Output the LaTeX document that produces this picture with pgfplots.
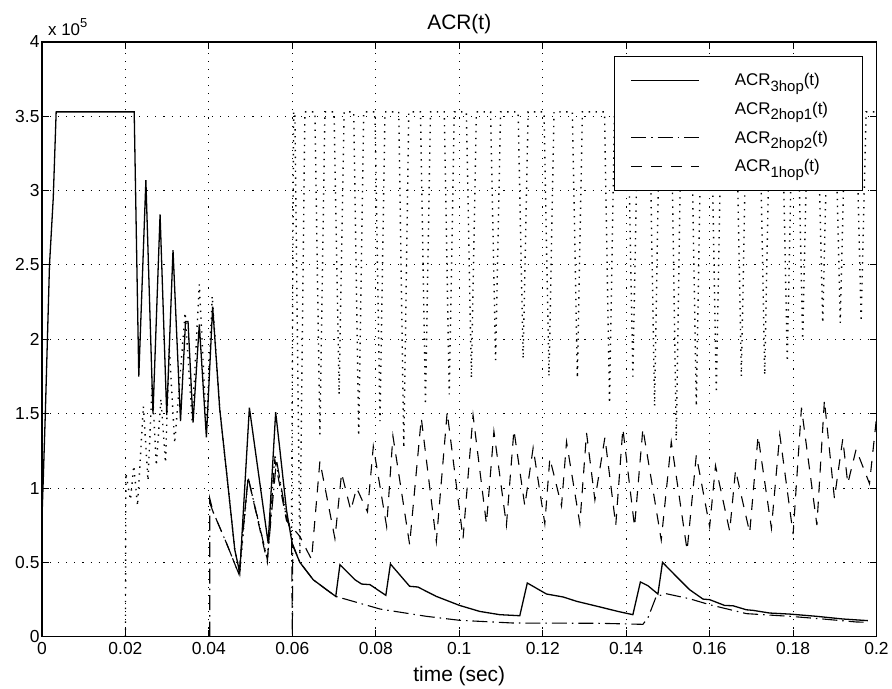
\documentclass[border=0pt]{standalone}
\usepackage{fontspec}
\setmainfont{Liberation Sans}
\usepackage{pgfplots}
\pgfplotsset{compat=1.18}
\newcommand\sub[1]{\raisebox{-0.32em}{\fontsize{15}{16}\selectfont #1}}
\begin{document}
\begin{tikzpicture}
\begin{axis}[
  scale only axis, width=835bp, height=595bp,
  xmin=0, xmax=0.2, ymin=0, ymax=4,
  xtick={0,0.02,0.04,0.06,0.08,0.1,0.12,0.14,0.16,0.18,0.2},
  xticklabels={0,0.02,0.04,0.06,0.08,0.1,0.12,0.14,0.16,0.18,0.2},
  ytick={0,0.5,1,1.5,2,2.5,3,3.5,4},
  yticklabels={0,0.5,1,1.5,2,2.5,3,3.5,4},
  /pgf/number format/assume math mode=true,
  tick align=inside, tick pos=both,
  major tick length=7bp,
  every tick/.style={black, line width=1bp},
  axis line style={line width=1.2bp},
  grid=major,
  grid style={black, line width=1bp, dash pattern=on 1.1bp off 7bp},
  ticklabel style={font=\fontsize{17.5}{20}\selectfont},
  yticklabel style={xshift=1bp},
  xticklabel style={yshift=-2bp},
  title={ACR(t)},
  title style={font=\fontsize{21}{24}\selectfont, yshift=-1bp},
  xlabel={time (sec)},
  every axis x label/.style={at={(axis description cs:0.5,0)}, anchor=north, yshift=-26bp, font=\fontsize{21}{24}\selectfont},
  legend cell align=left,
  legend style={at={(1,1)}, anchor=north east, xshift=-14bp, yshift=-14bp,
    draw=black, line width=1bp, inner xsep=16bp, inner ysep=15bp,
    font=\fontsize{17}{20}\selectfont, row sep=11bp,
    /tikz/every odd column/.append style={column sep=33bp}},
  legend image code/.code={\draw[#1] (0bp,0bp) -- (68bp,0bp);},
]
% ACR_3hop (solid)
\addplot[black, line width=1.3bp] coordinates {
(0,0.8) (0.0003,1.05) (0.0008,1.5) (0.0018,2.5) (0.0027,2.95) (0.0034,3.53)
(0.0221,3.53) (0.0232,1.75) (0.0249,3.07) (0.0266,1.50) (0.0283,2.84) (0.0299,1.49)
(0.0314,2.60) (0.0332,1.45) (0.0344,2.12) (0.0350,2.12) (0.0362,1.44) (0.0377,2.10)
(0.0394,1.34) (0.0409,2.22) (0.0426,1.53) (0.0446,1.01) (0.0462,0.585) (0.0474,0.43)
(0.0497,1.54) (0.0542,0.63) (0.0560,1.51) (0.0570,1.26) (0.0586,0.85) (0.0600,0.62)
(0.0618,0.50) (0.0650,0.383) (0.0682,0.316) (0.0704,0.271) (0.0714,0.484) (0.0750,0.383)
(0.0766,0.354) (0.0786,0.35) (0.0824,0.278) (0.0835,0.489) (0.0881,0.339) (0.0901,0.334)
(0.0921,0.305) (0.0945,0.271) (0.1001,0.21) (0.1049,0.17) (0.1097,0.148) (0.1145,0.141)
(0.1163,0.361) (0.1209,0.287) (0.1249,0.267) (0.1281,0.238) (0.1337,0.200) (0.1380,0.170)
(0.1416,0.148) (0.1434,0.368) (0.1452,0.343) (0.1476,0.287) (0.1487,0.50) (0.1524,0.394)
(0.1552,0.316) (0.1584,0.253) (0.1600,0.249) (0.1636,0.21) (0.1656,0.208) (0.1688,0.181)
(0.1704,0.177) (0.1744,0.159) (0.1792,0.152) (0.1856,0.137) (0.1919,0.119) (0.1979,0.108)
};
\addlegendentry{ACR\sub{3hop}(t)\hspace*{16bp}}
% ACR_2hop1 (dotted)
\addplot[black, line width=1.4bp, dash pattern=on 1.4bp off 5.5bp, legend image code/.code={}] coordinates {
(0.0200,0) (0.0201,1.10) (0.0212,0.92) (0.0220,1.15) (0.0229,0.88) (0.0243,1.55)
(0.0254,1.05) (0.0264,1.70) (0.0274,1.15) (0.0285,1.60) (0.0296,1.17) (0.0305,1.95)
(0.0318,1.30) (0.0343,2.18) (0.0360,1.45) (0.0377,2.37) (0.0394,1.40) (0.0408,2.29)
(0.0426,1.53) (0.0446,1.01) (0.0462,0.585) (0.0474,0.43) (0.0494,1.07) (0.0540,0.52)
(0.0558,1.22) (0.0586,0.80) (0.0598,0.70) (0.0603,3.53) (0.0606,3.53) (0.0618,0.55)
(0.0630,3.53)
(0.0654,3.53) (0.0666,1.36) (0.0678,3.53)
(0.0700,3.53) (0.0712,1.63) (0.0724,3.53)
(0.0747,3.53) (0.0759,1.35) (0.0771,3.53)
(0.0798,3.53) (0.0810,1.45) (0.0822,3.53)
(0.0855,3.53) (0.0867,1.27) (0.0879,3.53)
(0.0907,3.53) (0.0919,1.56) (0.0931,3.53)
(0.0964,3.53) (0.0976,1.63) (0.0988,3.53)
(0.1017,3.53) (0.1029,1.74) (0.1041,3.53)
(0.1075,3.53) (0.1087,1.86) (0.1099,3.53)
(0.1141,3.53) (0.1153,1.87) (0.1165,3.53)
(0.1203,3.53) (0.1215,1.75) (0.1227,3.53)
(0.1271,3.53) (0.1283,1.74) (0.1295,3.53)
(0.1348,3.53) (0.1360,1.57) (0.1372,3.53)
(0.1404,3.53) (0.1416,1.75) (0.1428,3.53)
(0.1456,3.53) (0.1468,1.55) (0.1480,3.53)
(0.1508,3.53) (0.1520,1.32) (0.1532,3.53)
(0.1556,3.53) (0.1568,1.55) (0.1580,3.53)
(0.1604,3.53) (0.1616,1.64) (0.1628,3.53)
(0.1664,3.53) (0.1676,1.75) (0.1688,3.53)
(0.1720,3.53) (0.1732,1.76) (0.1744,3.53)
(0.1774,3.53) (0.1786,1.85) (0.1798,3.53)
(0.1811,3.53) (0.1823,2.00) (0.1835,3.53)
(0.1859,3.53) (0.1871,2.11) (0.1883,3.53)
(0.1901,3.53) (0.1913,2.11) (0.1925,3.53)
(0.1951,3.53) (0.1963,2.12) (0.1975,3.53)
(0.2000,3.53)
};
\addlegendentry{ACR\sub{2hop1}(t)\hspace*{16bp}}
% ACR_2hop2 (dash-dot)
\addplot[black, line width=1.1bp, dash pattern=on 15bp off 5bp on 1.5bp off 5bp] coordinates {
(0.0402,0) (0.0402,0.93) (0.0410,0.84) (0.0442,0.63) (0.0472,0.42) (0.0494,1.07)
(0.0540,0.52) (0.0562,1.19) (0.0586,0.80) (0.0598,0.70) (0.0600,0) (0.0601,0.62)
(0.0618,0.50) (0.0650,0.383) (0.0682,0.316) (0.0704,0.271) (0.0810,0.186) (0.0921,0.137)
(0.1001,0.11) (0.1128,0.092) (0.1337,0.09) (0.1440,0.083) (0.1452,0.126) (0.1472,0.271)
(0.1496,0.289) (0.1552,0.255) (0.1600,0.215) (0.1688,0.155) (0.1792,0.137) (0.1871,0.119)
(0.1951,0.099) (0.1979,0.097)
};
\addlegendentry{ACR\sub{2hop2}(t)\hspace*{16bp}}
% ACR_1hop (dashed)
\addplot[black, line width=1.1bp, dash pattern=on 11bp off 9bp] coordinates {
(0.0402,0.90) (0.0410,0.84) (0.0442,0.63) (0.0472,0.42) (0.0494,1.07) (0.0540,0.50)
(0.0558,1.19) (0.0586,0.78) (0.0618,0.675) (0.0634,0.585) (0.0646,0.52) (0.0666,1.18)
(0.0702,0.66) (0.0718,1.10) (0.0740,0.85) (0.0754,1.00) (0.0780,0.84) (0.0794,1.28)
(0.0826,0.74) (0.0841,1.35) (0.0881,0.62) (0.0909,1.47) (0.0945,0.64) (0.0971,1.51)
(0.1009,0.66) (0.1033,1.49) (0.1065,0.76) (0.1083,1.38) (0.1113,0.75) (0.1131,1.39)
(0.1157,0.88) (0.1177,1.27) (0.1205,0.76) (0.1217,1.20) (0.1245,0.88) (0.1257,1.31)
(0.1289,0.76) (0.1305,1.37) (0.1325,0.92) (0.1349,1.34) (0.1375,0.75) (0.1392,1.40)
(0.1420,0.74) (0.1440,1.40) (0.1484,0.65) (0.1508,1.31) (0.1546,0.58) (0.1568,1.22)
(0.1600,0.74) (0.1614,1.15) (0.1648,0.71) (0.1662,1.12) (0.1696,0.70) (0.1716,1.35)
(0.1748,0.73) (0.1768,1.36) (0.1800,0.69) (0.1820,1.54) (0.1857,0.75) (0.1875,1.59)
(0.1899,0.93) (0.1919,1.33) (0.1931,1.03) (0.1951,1.26) (0.1983,1.03) (0.1999,1.45)
};
\addlegendentry{ACR\sub{1hop}(t)\hspace*{16bp}}
\end{axis}
\node[anchor=south west, inner sep=0pt, font=\fontsize{17}{18}\selectfont] at ([xshift=6bp,yshift=6bp]current axis.north west) {x 10\raisebox{0.5em}{\fontsize{13}{14}\selectfont 5}};
\path ([shift={(-42bp,-51bp)}]current axis.south west) rectangle ([shift={(15bp,42bp)}]current axis.north east);
\end{tikzpicture}
\end{document}
